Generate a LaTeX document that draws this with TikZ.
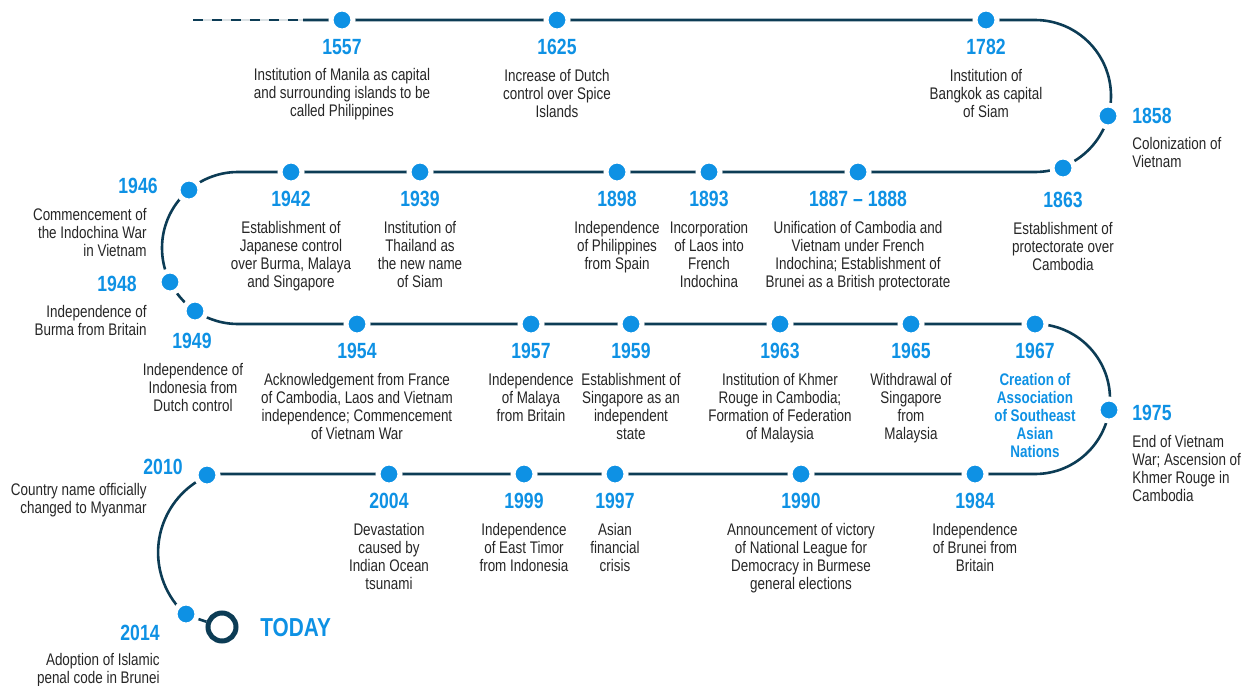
\documentclass[tikz,border=0pt]{standalone}
\usepackage{fontspec}
\setmainfont{Liberation Sans}[FakeStretch=0.8]
\usepackage{tikz}
\usetikzlibrary{positioning}
\definecolor{tlnavy}{RGB}{12,60,85}
\definecolor{tlblue}{RGB}{14,145,228}
\definecolor{tltext}{RGB}{38,38,38}
\tikzstyle{timeline} = [line width=1.3pt, color=tlnavy]
\tikzstyle{evdot} = [circle, fill=tlblue, draw=white, line width=2.5pt, inner sep=0pt, minimum size=11pt]
\tikzstyle{yearlabel} = [font=\fontsize{11}{12}\selectfont\bfseries, text=tlblue, inner sep=0pt]
\tikzstyle{eventtext} = [font=\fontsize{8.4}{9}\selectfont, text=tltext, align=center, inner sep=0pt]
\tikzstyle{keytext} = [eventtext, font=\fontsize{8.4}{9}\selectfont\bfseries, text=tlblue]

\begin{document}
\begin{tikzpicture}[x=0.5pt, y=-0.5pt, node distance=2.8pt]
\useasboundingbox (0,0) rectangle (1244,686);
% end marker
\node[circle, draw=tlnavy, line width=2.5pt, inner sep=0pt, minimum size=14pt] (today) at (222,627) {};
\node[font=\fontsize{13}{14}\selectfont\bfseries, text=tlblue, anchor=west, inner sep=0pt] (tdy) at (260,628) {TODAY};
% the trail
\draw[tlnavy!15, line width=1.3pt] (193,20) -- (303,20);
\draw[timeline, dash pattern=on 5pt off 4.5pt] (193,20) -- (303,20);
\draw[timeline] (303,20) -- (1035,20) arc[start angle=-90, end angle=90, radius=76]
  -- (238,172) arc[start angle=-90, end angle=-270, radius=76]
  -- (1035,324) arc[start angle=-90, end angle=90, radius=75]
  -- (212,474) arc[start angle=249, end angle=132, radius=84] -- (today);

% row 1
\node[evdot] (d1557) at (342,20) {};
\node[yearlabel, below=of d1557] (y1557) {1557};
\node[eventtext, below=6.5pt of y1557] (t1557) {Institution of Manila as capital\\and surrounding islands to be\\called Philippines};
\node[evdot] (d1625) at (557,20) {};
\node[yearlabel, below=of d1625] (y1625) {1625};
\node[eventtext, below=6.5pt of y1625] (t1625) {Increase of Dutch\\control over Spice\\Islands};
\node[evdot] (d1782) at (986,20) {};
\node[yearlabel, below=of d1782] (y1782) {1782};
\node[eventtext, below=6.5pt of y1782] (t1782) {Institution of\\Bangkok as capital\\of Siam};
\node[evdot] (d1858) at (1108,116) {};
\node[yearlabel, anchor=west] (y1858) at (1132,116) {1858};
\node[eventtext, align=left, anchor=north west] (t1858) at (1132,137) {Colonization of\\Vietnam};

% row 2
\node[evdot] (d1863) at (1063,168) {};
\node[yearlabel, below=5.3pt of d1863] (y1863) {1863};
\node[eventtext, below=6.5pt of y1863] (t1863) {Establishment of\\protectorate over\\Cambodia};
\node[evdot] (d1887) at (858,172) {};
\node[yearlabel, below=of d1887] (y1887) {1887 -- 1888};
\node[eventtext, below=6.5pt of y1887] (t1887) {Unification of Cambodia and\\Vietnam under French\\Indochina; Establishment of\\Brunei as a British protectorate};
\node[evdot] (d1893) at (709,172) {};
\node[yearlabel, below=of d1893] (y1893) {1893};
\node[eventtext, below=6.5pt of y1893] (t1893) {Incorporation\\of Laos into\\French\\Indochina};
\node[evdot] (d1898) at (617,172) {};
\node[yearlabel, below=of d1898] (y1898) {1898};
\node[eventtext, below=6.5pt of y1898] (t1898) {Independence\\of Philippines\\from Spain};
\node[evdot] (d1939) at (420,172) {};
\node[yearlabel, below=of d1939] (y1939) {1939};
\node[eventtext, below=6.5pt of y1939] (t1939) {Institution of\\Thailand as\\the new name\\of Siam};
\node[evdot] (d1942) at (291,172) {};
\node[yearlabel, below=of d1942] (y1942) {1942};
\node[eventtext, below=6.5pt of y1942] (t1942) {Establishment of\\Japanese control\\over Burma, Malaya\\and Singapore};
\node[evdot] (d1946) at (189,190) {};
\node[yearlabel, anchor=east] (y1946) at (158,186) {1946};
\node[eventtext, align=right, anchor=north east] (t1946) at (147,208) {Commencement of\\the Indochina War\\in Vietnam};
\node[evdot] (d1948) at (170,282) {};
\node[yearlabel, anchor=east] (y1948) at (137,284) {1948};
\node[eventtext, align=right, anchor=north east] (t1948) at (147,305) {Independence of\\Burma from Britain};

% row 3
\node[evdot] (d1949) at (195,311) {};
\node[yearlabel] (y1949) at (192,341) {1949};
\node[eventtext, anchor=north] (t1949) at (193,363) {Independence of\\Indonesia from\\Dutch control};
\node[evdot] (d1954) at (357,324) {};
\node[yearlabel, below=of d1954] (y1954) {1954};
\node[eventtext, below=6.5pt of y1954] (t1954) {Acknowledgement from France\\of Cambodia, Laos and Vietnam\\independence; Commencement\\of Vietnam War};
\node[evdot] (d1957) at (531,324) {};
\node[yearlabel, below=of d1957] (y1957) {1957};
\node[eventtext, below=6.5pt of y1957] (t1957) {Independence\\of Malaya\\from Britain};
\node[evdot] (d1959) at (631,324) {};
\node[yearlabel, below=of d1959] (y1959) {1959};
\node[eventtext, below=6.5pt of y1959] (t1959) {Establishment of\\Singapore as an\\independent\\state};
\node[evdot] (d1963) at (780,324) {};
\node[yearlabel, below=of d1963] (y1963) {1963};
\node[eventtext, below=6.5pt of y1963] (t1963) {Institution of Khmer\\Rouge in Cambodia;\\Formation of Federation\\of Malaysia};
\node[evdot] (d1965) at (911,324) {};
\node[yearlabel, below=of d1965] (y1965) {1965};
\node[eventtext, below=6.5pt of y1965] (t1965) {Withdrawal of\\Singapore\\from\\Malaysia};
\node[evdot] (d1967) at (1035,324) {};
\node[yearlabel, below=of d1967] (y1967) {1967};
\node[keytext, below=6.5pt of y1967] (t1967) {Creation of\\Association\\of Southeast\\Asian\\Nations};
\node[evdot] (d1975) at (1109,410) {};
\node[yearlabel, anchor=west] (y1975) at (1132,413) {1975};
\node[eventtext, align=left, anchor=north west] (t1975) at (1132,435) {End of Vietnam\\War; Ascension of\\Khmer Rouge in\\Cambodia};

% row 4
\node[evdot] (d1984) at (975,474) {};
\node[yearlabel, below=of d1984] (y1984) {1984};
\node[eventtext, below=6.5pt of y1984] (t1984) {Independence\\of Brunei from\\Britain};
\node[evdot] (d1990) at (801,474) {};
\node[yearlabel, below=of d1990] (y1990) {1990};
\node[eventtext, below=6.5pt of y1990] (t1990) {Announcement of victory\\of National League for\\Democracy in Burmese\\general elections};
\node[evdot] (d1997) at (615,474) {};
\node[yearlabel, below=of d1997] (y1997) {1997};
\node[eventtext, below=6.5pt of y1997] (t1997) {Asian\\financial\\crisis};
\node[evdot] (d1999) at (524,474) {};
\node[yearlabel, below=of d1999] (y1999) {1999};
\node[eventtext, below=6.5pt of y1999] (t1999) {Independence\\of East Timor\\from Indonesia};
\node[evdot] (d2004) at (389,474) {};
\node[yearlabel, below=of d2004] (y2004) {2004};
\node[eventtext, below=6.5pt of y2004] (t2004) {Devastation\\caused by\\Indian Ocean\\tsunami};
\node[evdot] (d2010) at (207,475) {};
\node[yearlabel, anchor=east] (y2010) at (183,467) {2010};
\node[eventtext, align=right, anchor=north east] (t2010) at (147,483) {Country name officially\\changed to Myanmar};
\node[evdot] (d2014) at (186,614) {};
\node[yearlabel, anchor=east] (y2014) at (160,633) {2014};
\node[eventtext, align=right, anchor=north east] (t2014) at (160,653) {Adoption of Islamic\\penal code in Brunei};
\end{tikzpicture}
\end{document}
